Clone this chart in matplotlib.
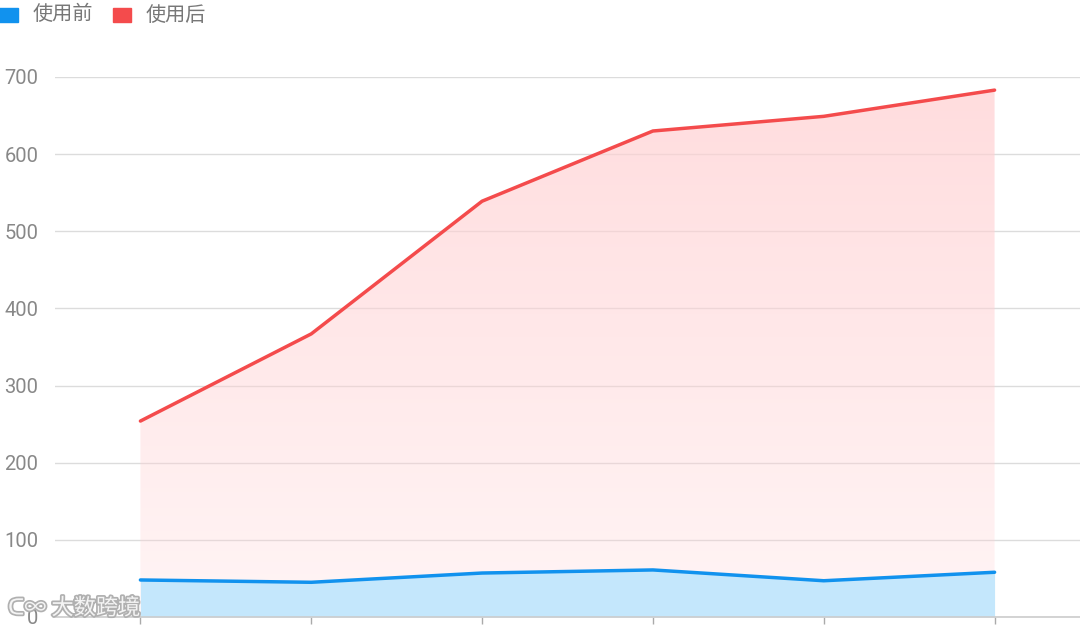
import numpy as np
import matplotlib
matplotlib.use("Agg")
import matplotlib.pyplot as plt
from matplotlib.patches import Rectangle
import matplotlib.patheffects as pe

plt.rcParams['font.family'] = ['Noto Sans CJK SC', 'DejaVu Sans']

categories = ['1', '2', '3', '4', '5', '6']
before = [48, 45, 57, 61, 47, 58]
after = [254, 367, 539, 630, 649, 683]
series_names = ['使用前', '使用后']
yticks = [0, 100, 200, 300, 400, 500, 600, 700]

blue = '#1192ee'
red = '#f44b4c'

fig = plt.figure(figsize=(10.8, 6.3), dpi=100)
ax = fig.add_axes([55/1080, 13/630, 1025/1080, 540/630])
x = np.arange(len(categories))

ax.set_xlim(-0.5, len(categories) - 0.5)
ax.set_ylim(0, 700)

# gradient fill under red line
poly = ax.fill_between(x, 0, after, color='none', lw=0)
grad = np.linspace(0, 1, 256).reshape(-1, 1)
cmap = matplotlib.colors.LinearSegmentedColormap.from_list(
    'g', [(1.0, 0.82, 0.83, 0.22), (1.0, 0.82, 0.83, 0.75)])
im = ax.imshow(grad, extent=[x[0], x[-1], 0, max(after)], origin='lower',
               aspect='auto', cmap=cmap, zorder=1)
path = poly.get_paths()[0]
im.set_clip_path(path, transform=ax.transData)

ax.fill_between(x, 0, before, color='#c4e7fc', lw=0, zorder=2)
ax.plot(x, after, color=red, lw=2.5, zorder=4, solid_capstyle='round')
ax.plot(x, before, color=blue, lw=2.5, zorder=4, solid_capstyle='round')

ax.set_yticks(yticks)
ax.set_yticklabels([str(v) for v in yticks], family=['Roboto', 'DejaVu Sans'])
ax.yaxis.grid(True, color='#dcdcdc', lw=1)
ax.set_axisbelow(True)
ax.set_xticks(x)
ax.set_xticklabels([''] * len(x))
ax.tick_params(axis='x', length=5, color='#aaaaaa', width=1)
ax.tick_params(axis='y', length=0, labelsize=14.5, labelcolor='#888888', pad=12)
for s in ['top', 'right', 'left']:
    ax.spines[s].set_visible(False)
ax.spines['bottom'].set_color('#cccccc')
ax.spines['bottom'].set_linewidth(1.2)

# legend
fig.patches.append(Rectangle((-6/1080, 1 - 22/630), 24/1080, 14/630,
                             transform=fig.transFigure, color=blue))
fig.text(33/1080, 1 - 15/630, series_names[0], fontsize=14.5, color='#777777', va='center')
fig.patches.append(Rectangle((113/1080, 1 - 22/630), 18/1080, 14/630,
                             transform=fig.transFigure, color=red))
fig.text(146/1080, 1 - 15/630, series_names[1], fontsize=14.5, color='#777777', va='center')

# watermark
fig.text(8/1080, 1 - 608/630, 'ᑕ∞ 大数跨境', fontsize=16, color='#f4f4f4', va='center',
         family=['Noto Sans CJK SC', 'DejaVu Sans'],
         path_effects=[pe.withStroke(linewidth=2.5, foreground='#b0b0b0')], zorder=10)

fig.savefig('out.png', dpi=100)
